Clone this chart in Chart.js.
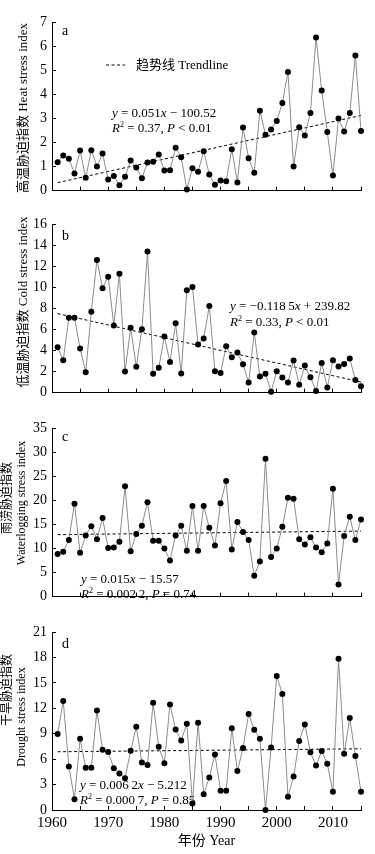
<!DOCTYPE html>
<html>
<head>
<meta charset="utf-8">
<script src="https://cdn.jsdelivr.net/npm/chart.js@4.4.0/dist/chart.umd.min.js"></script>
<style>
  body { margin: 0; background: #fff; }
  #wrap { position: relative; width: 375px; height: 854px; }
  canvas { position: absolute; left: 0; }
</style>
</head>
<body>
<div id="wrap">
  <canvas id="chartA" width="375" height="206" style="top:2px"></canvas>
  <canvas id="chartB" width="375" height="206" style="top:204px"></canvas>
  <canvas id="chartC" width="375" height="206" style="top:408px"></canvas>
  <canvas id="chartD" width="375" height="242" style="top:612px"></canvas>
</div>
<script>
const years = [1961, 1962, 1963, 1964, 1965, 1966, 1967, 1968, 1969, 1970,
  1971, 1972, 1973, 1974, 1975, 1976, 1977, 1978, 1979, 1980,
  1981, 1982, 1983, 1984, 1985, 1986, 1987, 1988, 1989, 1990,
  1991, 1992, 1993, 1994, 1995, 1996, 1997, 1998, 1999, 2000,
  2001, 2002, 2003, 2004, 2005, 2006, 2007, 2008, 2009, 2010,
  2011, 2012, 2013, 2014, 2015]

// 高温胁迫指数 Heat stress index
const heatData = [1.18, 1.46, 1.32, 0.71, 1.66, 0.53, 1.68, 1.0, 1.54, 0.46,
  0.61, 0.22, 0.57, 1.25, 0.96, 0.51, 1.17, 1.2, 1.5, 0.83,
  0.84, 1.78, 1.38, 0.05, 0.93, 0.78, 1.63, 0.67, 0.24, 0.42,
  0.39, 1.72, 0.34, 2.62, 1.34, 0.74, 3.32, 2.32, 2.54, 2.89,
  3.64, 4.92, 1.0, 2.63, 2.29, 3.22, 6.36, 4.16, 2.43, 0.63,
  2.99, 2.45, 3.22, 5.61, 2.47]

// 低温胁迫指数 Cold stress index
const coldData = [4.3, 3.08, 7.11, 7.11, 4.19, 1.94, 7.68, 12.59, 9.9, 11.0,
  6.37, 11.27, 2.0, 6.16, 2.45, 6.01, 13.4, 1.79, 2.36, 5.32,
  2.9, 6.58, 1.82, 9.72, 10.02, 4.57, 5.14, 8.22, 2.03, 1.85,
  4.39, 3.35, 3.8, 2.69, 0.96, 5.71, 1.52, 1.79, 0.09, 2.03,
  1.43, 0.96, 3.05, 0.75, 2.57, 1.46, 0.15, 2.81, 0.48, 3.08,
  2.48, 2.72, 3.23, 1.2, 0.6]

// 雨涝胁迫指数 Waterlogging stress index
const waterData = [8.83, 9.29, 11.75, 19.3, 9.09, 12.7, 14.6, 11.9, 16.3, 10.1,
  10.2, 11.4, 22.9, 9.4, 13.0, 14.7, 19.6, 11.6, 11.6, 10.0,
  7.5, 12.7, 14.7, 9.5, 18.8, 9.5, 18.8, 14.3, 10.6, 19.4,
  24.0, 9.8, 15.5, 13.4, 11.75, 4.35, 7.3, 28.6, 8.2, 10.0,
  14.5, 20.5, 20.3, 11.9, 10.8, 12.3, 10.2, 9.2, 11.0, 22.4,
  2.5, 12.6, 16.6, 11.75, 16.0]

// 干旱胁迫指数 Drought stress index
const droughtData = [8.96, 12.85, 5.14, 1.28, 8.4, 4.98, 4.98, 11.75, 7.1, 6.83,
  4.94, 4.31, 3.76, 7.0, 9.82, 5.6, 5.3, 12.66, 7.46, 5.53,
  12.46, 9.5, 8.2, 10.18, 0.77, 10.3, 1.87, 3.84, 6.56, 2.26,
  2.26, 9.63, 4.59, 7.3, 11.32, 9.47, 8.4, 0.0, 7.38, 15.8,
  13.7, 1.56, 3.95, 8.13, 10.1, 6.8, 5.25, 6.95, 5.45, 2.15,
  17.83, 6.63, 10.85, 6.36, 2.15]

// trendline values at the first and last year
const trendYears = [1961, 2015]
const heatTrend = [0.33, 3.12]
const coldTrend = [7.5, 1.0]
const waterTrend = [12.86, 13.6]
const droughtTrend = [6.87, 7.22]

const xTicks = [1960, 2015, 5]     // min, max, step
const heatTicks = [0, 7, 1]
const coldTicks = [0, 16, 2]
const waterTicks = [0, 35, 5]
const droughtTicks = [0, 21, 3]

const FONT = '"Liberation Serif", "Noto Sans CJK SC", serif'

// '*..*' = italic, '^c' = superscript
function drawRich(ctx, str, x, y, size) {
    var parts = str.split(/(\*[^*]*\*|\^.)/).filter(function (p) { return p.length > 0 })
    parts.forEach(function (p) {
        var t = p, dy = 0, font = size + 'px ' + FONT
        if (p[0] === '*') {
            t = p.slice(1, -1)
            font = 'italic ' + font
        } else if (p[0] === '^') {
            t = p.slice(1)
            font = Math.round(size * 0.62) + 'px ' + FONT
            dy = -size * 0.4
        }
        ctx.font = font
        ctx.fillText(t, x, y + dy)
        x += ctx.measureText(t).width
    })
}

function notesPlugin(top, notes) {
    return {
        id: 'notes',
        beforeDatasetsDraw: function (chart) {
            var ctx = chart.ctx
            ctx.save()
            ctx.fillStyle = '#000'
            ctx.textAlign = 'left'
            ctx.textBaseline = 'alphabetic'
            notes.lines.forEach(function (n) {
                drawRich(ctx, n[0], n[1], n[2] - top, n[3])
            })
            notes.titles.forEach(function (n) {
                ctx.save()
                ctx.translate(n[1], n[2] - top)
                ctx.rotate(-Math.PI / 2)
                ctx.font = n[3] + 'px ' + FONT
                ctx.textAlign = 'center'
                ctx.textBaseline = 'middle'
                ctx.fillText(n[0], 0, 0)
                ctx.restore()
            })
            if (notes.legend) {
                var lg = notes.legend
                ctx.strokeStyle = '#000'
                ctx.lineWidth = 1
                ctx.setLineDash([3, 2.5])
                ctx.beginPath()
                ctx.moveTo(lg.x1, lg.y - top)
                ctx.lineTo(lg.x2, lg.y - top)
                ctx.stroke()
                ctx.setLineDash([])
                drawRich(ctx, lg.text, lg.tx, lg.ty - top, 13)
            }
            ctx.restore()
        }
    }
}

function makePanel(id, top, values, trend, yTicks, isLast, notes) {
    var ctx = document.getElementById(id).getContext('2d')
    return new Chart(ctx, {
        type: 'line',
        data: {
            datasets: [
                {
                    data: years.map(function (yr, i) { return { x: yr, y: values[i] } }),
                    borderColor: '#8c8c8c',
                    borderWidth: 1,
                    pointRadius: 3,
                    pointBackgroundColor: '#000',
                    pointBorderWidth: 0,
                    tension: 0,
                    clip: false,
                    order: 0
                },
                {
                    data: trendYears.map(function (yr, i) { return { x: yr, y: trend[i] } }),
                    borderColor: '#000',
                    borderWidth: 1,
                    borderDash: [3, 2.5],
                    pointRadius: 0,
                    clip: false,
                    order: 1
                }
            ]
        },
        options: {
            responsive: false,
            animation: false,
            layout: { padding: { top: 20, right: 14, left: 0, bottom: 0 } },
            plugins: {
                legend: { display: false },
                tooltip: { enabled: false }
            },
            scales: {
                x: {
                    type: 'linear',
                    min: xTicks[0],
                    max: xTicks[1],
                    border: { display: true, color: '#000', width: 1 },
                    grid: { drawOnChartArea: false, drawTicks: true, tickLength: -4, color: '#000' },
                    ticks: {
                        display: isLast,
                        stepSize: xTicks[2],
                        autoSkip: false,
                        maxRotation: 0,
                        padding: 8,
                        color: '#000',
                        font: { family: FONT, size: 15 },
                        callback: function (v) { return v % 10 === 0 ? String(v) : '' }
                    },
                    title: {
                        display: isLast,
                        text: '年份 Year',
                        color: '#000',
                        font: { family: FONT, size: 14 },
                        padding: { top: 0, bottom: 4 }
                    },
                    afterFit: function (s) { s.height = isLast ? 44 : 8 }
                },
                y: {
                    min: yTicks[0],
                    max: yTicks[1],
                    border: { display: true, color: '#000', width: 1 },
                    grid: { drawOnChartArea: false, drawTicks: true, tickLength: -4, color: '#000' },
                    ticks: {
                        stepSize: yTicks[2],
                        padding: 9,
                        color: '#000',
                        font: { family: FONT, size: 14 }
                    },
                    afterFit: function (s) { s.width = 52 }
                }
            }
        },
        plugins: [notesPlugin(top, notes)]
    })
}

const chartA = makePanel('chartA', 2, heatData, heatTrend, heatTicks, false, {
    lines: [
        ['a', 62, 35, 14],
        ['*y* = 0.051*x* − 100.52', 112, 117, 13],
        ['*R*^2 = 0.37, *P* < 0.01', 112, 132, 13]
    ],
    titles: [['高温胁迫指数 Heat stress index', 24, 108, 13]],
    legend: { x1: 106, x2: 125, y: 65, tx: 136, ty: 69, text: '趋势线 Trendline' }
})

const chartB = makePanel('chartB', 204, coldData, coldTrend, coldTicks, false, {
    lines: [
        ['b', 62, 240, 14],
        ['*y* = −0.118\u20095*x* + 239.82', 230, 310, 13],
        ['*R*^2 = 0.33, *P* < 0.01', 230, 326, 13]
    ],
    titles: [['低温胁迫指数 Cold stress index', 24, 302, 13]]
})

const chartC = makePanel('chartC', 408, waterData, waterTrend, waterTicks, false, {
    lines: [
        ['c', 62, 441, 14],
        ['*y* = 0.015*x* − 15.57', 81, 583, 13],
        ['*R*^2 = 0.002\u20092, *P* = 0.74', 81, 598, 13]
    ],
    titles: [
        ['雨涝胁迫指数', 8, 498, 12],
        ['Waterlogging stress index', 22, 503, 12]
    ]
})

const chartD = makePanel('chartD', 612, droughtData, droughtTrend, droughtTicks, true, {
    lines: [
        ['d', 62, 648, 14],
        ['*y* = 0.006\u20092*x* − 5.212', 80, 789, 13],
        ['*R*^2 = 0.000\u20097, *P* = 0.85', 80, 804, 13]
    ],
    titles: [
        ['干旱胁迫指数', 8, 690, 12],
        ['Drought stress index', 22, 717, 12]
    ]
})
</script>
</body>
</html>
